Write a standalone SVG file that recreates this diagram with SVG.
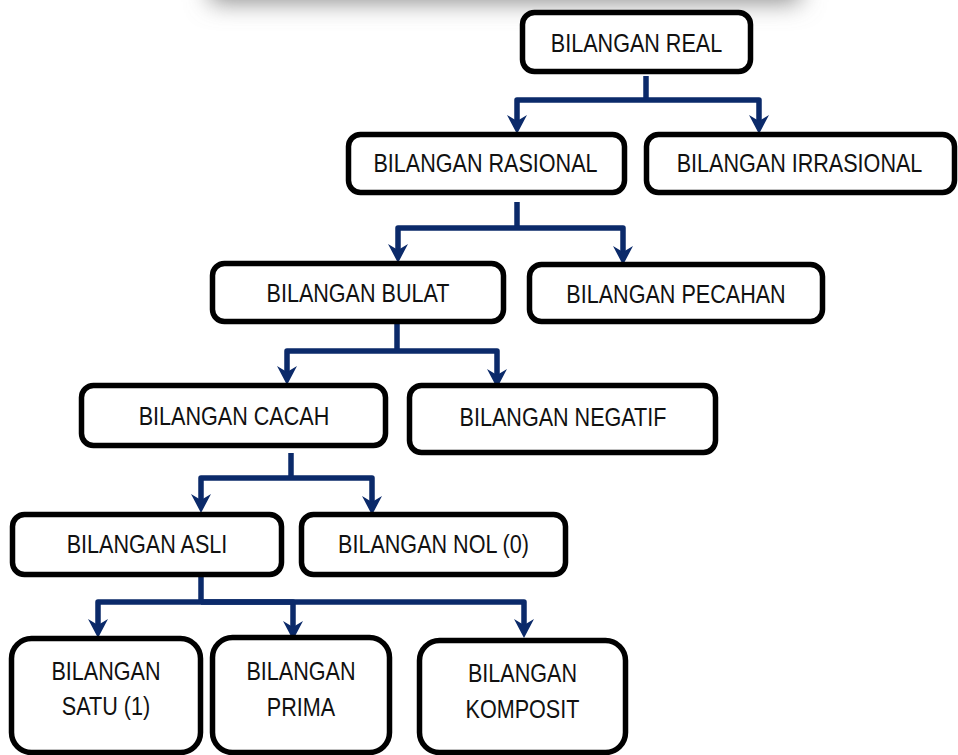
<svg xmlns="http://www.w3.org/2000/svg" width="958" height="755" viewBox="0 0 958 755">
<style>
.box{fill:#fff;stroke:#000;stroke-width:5.5}
.lbl{font-family:"Liberation Sans",Arial,sans-serif;font-size:26px;fill:#111;text-anchor:middle}
.con{fill:none;stroke:#0b2a6a;stroke-width:5.5;stroke-linejoin:round}
.arr{marker-end:url(#ah)}
</style>
<defs>
<filter id="blur" x="-20%" y="-100%" width="140%" height="300%"><feGaussianBlur stdDeviation="12"/></filter>
<marker id="ah" markerUnits="userSpaceOnUse" markerWidth="20" markerHeight="20" viewBox="0 0 20 20" refX="8" refY="10" orient="auto">
<path d="M0,0 L19,10 L0,20 L6,10 Z" fill="#0b2a6a"/>
</marker>
</defs>
<rect width="958" height="755" fill="#fff"/>
<rect x="210" y="-60" width="590" height="62" fill="#8a8a8a" filter="url(#blur)"/>

<g id="connectors">
<path class="con" d="M646,76 V100"/>
<path class="con arr" d="M646,100 H517 V123"/>
<path class="con arr" d="M646,100 H759 V123"/>
<path class="con" d="M517,202 V228"/>
<path class="con arr" d="M517,228 H398 V252"/>
<path class="con arr" d="M517,228 H623 V254"/>
<path class="con" d="M397,324 V351"/>
<path class="con arr" d="M397,351 H287 V374"/>
<path class="con arr" d="M397,351 H497 V377"/>
<path class="con" d="M291,453 V478"/>
<path class="con arr" d="M291,478 H201 V502"/>
<path class="con arr" d="M291,478 H372 V504"/>
<path class="con" d="M201,577 V602"/>
<path class="con arr" d="M201,602 H98 V627"/>
<path class="con arr" d="M201,602 H293 V629"/>
<path class="con arr" d="M201,602 H524 V627"/>
</g>

<g id="n-real"><rect class="box" x="522.5" y="12.5" width="228" height="59" rx="12"/>
<text class="lbl" transform="translate(636.5,52) scale(0.83,1)">BILANGAN REAL</text></g>
<g id="n-rasional"><rect class="box" x="348.5" y="134.5" width="276" height="58" rx="12"/>
<text class="lbl" transform="translate(485.5,172) scale(0.83,1)">BILANGAN RASIONAL</text></g>
<g id="n-irrasional"><rect class="box" x="646.5" y="134.5" width="308" height="58" rx="12"/>
<text class="lbl" transform="translate(799.5,172) scale(0.83,1)">BILANGAN IRRASIONAL</text></g>
<g id="n-bulat"><rect class="box" x="212.5" y="263.5" width="291" height="58" rx="12"/>
<text class="lbl" transform="translate(358,302) scale(0.83,1)">BILANGAN BULAT</text></g>
<g id="n-pecahan"><rect class="box" x="529.5" y="264.5" width="293" height="57" rx="12"/>
<text class="lbl" transform="translate(676,303) scale(0.83,1)">BILANGAN PECAHAN</text></g>
<g id="n-cacah"><rect class="box" x="81.5" y="385.5" width="304" height="60" rx="12"/>
<text class="lbl" transform="translate(234,425) scale(0.83,1)">BILANGAN CACAH</text></g>
<g id="n-negatif"><rect class="box" x="409.5" y="385.5" width="306" height="67" rx="12"/>
<text class="lbl" transform="translate(563,426) scale(0.83,1)">BILANGAN NEGATIF</text></g>
<g id="n-asli"><rect class="box" x="12.5" y="514.5" width="269" height="60" rx="12"/>
<text class="lbl" transform="translate(147,553) scale(0.83,1)">BILANGAN ASLI</text></g>
<g id="n-nol"><rect class="box" x="301.5" y="514.5" width="264" height="60" rx="12"/>
<text class="lbl" transform="translate(433.5,553) scale(0.83,1)">BILANGAN NOL (0)</text></g>
<g id="n-satu"><rect class="box" x="11.5" y="638.5" width="189" height="114" rx="20"/>
<text class="lbl" transform="translate(106,680) scale(0.83,1)">BILANGAN</text>
<text class="lbl" transform="translate(106,715) scale(0.83,1)">SATU (1)</text></g>
<g id="n-prima"><rect class="box" x="212.5" y="637.5" width="177" height="115" rx="20"/>
<text class="lbl" transform="translate(301,680) scale(0.83,1)">BILANGAN</text>
<text class="lbl" transform="translate(301,716) scale(0.83,1)">PRIMA</text></g>
<g id="n-komposit"><rect class="box" x="419.5" y="640.5" width="206" height="112" rx="20"/>
<text class="lbl" transform="translate(522.5,682) scale(0.83,1)">BILANGAN</text>
<text class="lbl" transform="translate(522.5,718) scale(0.83,1)">KOMPOSIT</text></g>
</svg>
